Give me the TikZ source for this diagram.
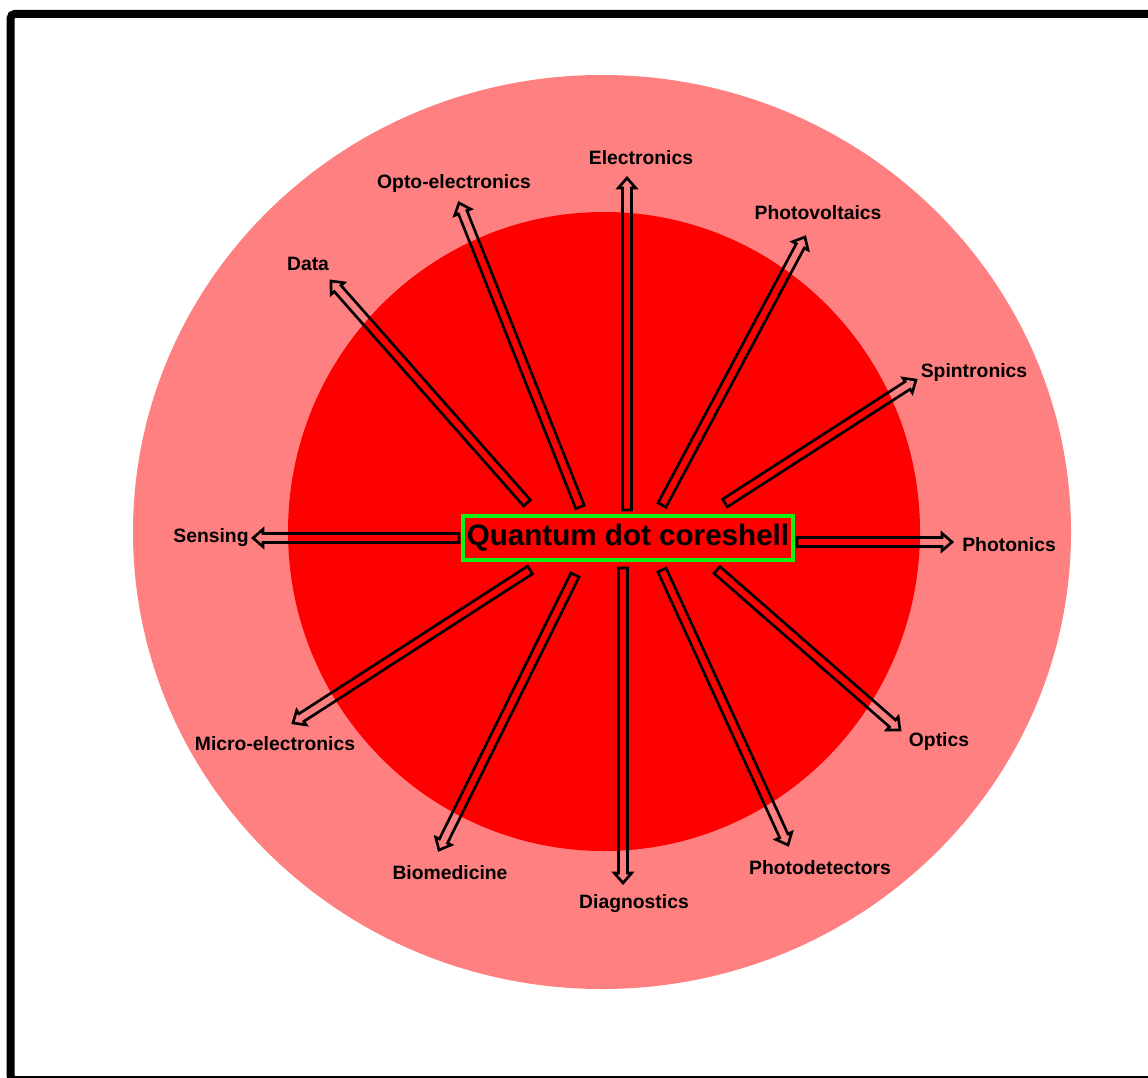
\documentclass[tikz,border=0pt]{standalone}
\usepackage{fontspec}
\setmainfont{Liberation Sans}
\usetikzlibrary{calc}
\definecolor{shellpink}{RGB}{255,128,128}
\definecolor{corered}{RGB}{255,0,0}
\definecolor{boxgreen}{RGB}{20,240,20}

% hollow block arrow from #1 to #2
\newcommand{\blockarrow}[2]{%
  \coordinate (hb) at ($(#2)!7.5pt!(#1)$);
  \draw[qdarrow] ($(#1)!3.4pt!90:(hb)$) -- ($(hb)!3.4pt!-90:(#1)$)
    -- ($(hb)!6.5pt!-90:(#1)$) -- (#2) -- ($(hb)!6.5pt!90:(#1)$)
    -- ($(hb)!3.4pt!90:(#1)$) -- ($(#1)!3.4pt!-90:(hb)$) -- cycle;}

\begin{document}
\begin{tikzpicture}[x=0.75pt, y=-0.75pt,
  app/.style={font=\bfseries\fontsize{14.5}{16}\selectfont, inner sep=1pt},
  core/.style={draw=boxgreen, line width=3pt, font=\bfseries\fontsize{22.2}{24}\selectfont,
    minimum width=248pt, minimum height=33.5pt, inner sep=0pt},
  qdarrow/.style={draw=black, line width=2pt}
]
  \useasboundingbox (0,0) rectangle (1148,1077);
  \clip (0,0) rectangle (1148,1077);
  \draw[line width=6pt, rounded corners=3pt] (10.7,14) rectangle (1170,1080);

  % shell and core
  \fill[shellpink] (602,532) ellipse [x radius=469, y radius=457];
  \fill[corered] (604,531.5) ellipse [x radius=316, y radius=319.5];

  \node[core] (qd) at (628,538) {Quantum dot coreshell};

  % applications
  \node[app] (elec) at (641,158) {Electronics};
  \node[app] (opto) at (454,184) {Opto-electronics};
  \node[app] (data) at (308,264) {Data};
  \node[app] (pv) at (818,213) {Photovoltaics};
  \node[app] (spin) at (974,372) {Spintronics};
  \node[app] (phot) at (1009,545) {Photonics};
  \node[app] (optics) at (939,741) {Optics};
  \node[app] (pdet) at (820,868) {Photodetectors};
  \node[app] (diag) at (634,904) {Diagnostics};
  \node[app] (bio) at (450,873) {Biomedicine};
  \node[app] (micro) at (275,744) {Micro-electronics};
  \node[app] (sens) at (211,538) {Sensing};

  \foreach \name/\sx/\sy/\tx/\ty in {elec/627/510/627/178, opto/580/507/459/203,
      data/527/503/331/281, pv/662/505/805/237, spin/725/503/916/380,
      phot/797/542/952/542, optics/717/570/900/730, pdet/662/570/788/845,
      diag/623/568/623/883, bio/575/575/439/850, micro/530/570/293/723,
      sens/459/538/253/538} {
    \coordinate (s\name) at (\sx,\sy);
    \coordinate (t\name) at (\tx,\ty);
    \blockarrow{s\name}{t\name}
  }
\end{tikzpicture}
\end{document}
